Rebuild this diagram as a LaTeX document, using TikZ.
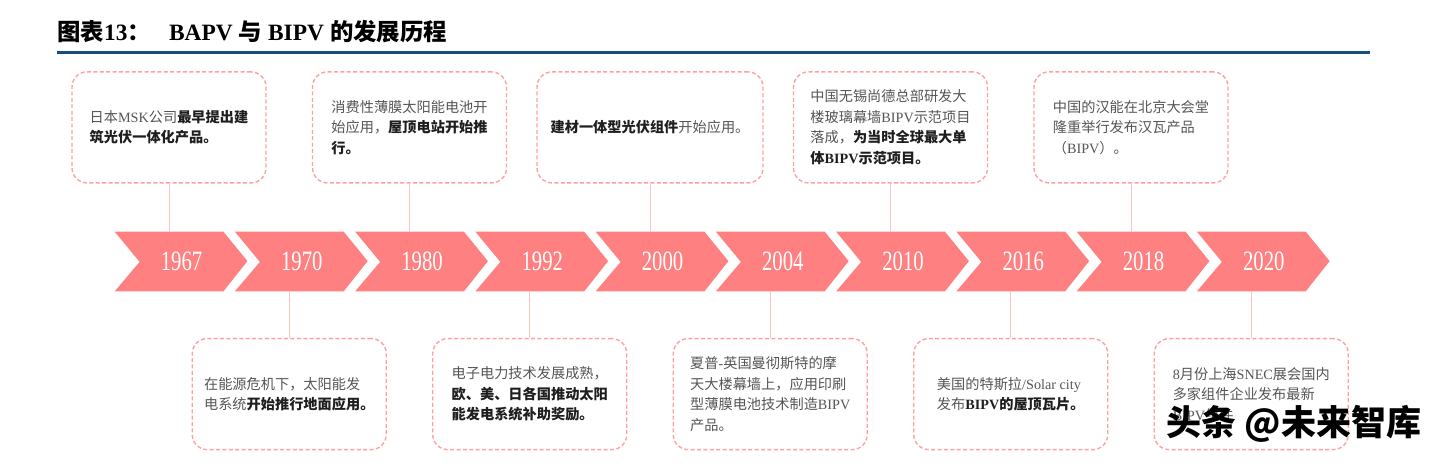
\documentclass[tikz,border=0pt]{standalone}
\usepackage{fontspec}
\setmainfont{Liberation Serif}
\newfontfamily\cjk{Noto Sans CJK SC}
\newfontfamily\yearfont{Liberation Serif}[FakeStretch=0.74]
\usetikzlibrary{positioning,calc}

\definecolor{chevred}{RGB}{255,128,128}
\definecolor{boxpink}{RGB}{255,160,160}
\definecolor{linkpink}{RGB}{255,195,195}
\definecolor{rulecol}{RGB}{22,78,130}
\definecolor{txtgrey}{RGB}{85,85,85}
\definecolor{txtdark}{RGB}{30,30,30}

\newcommand{\en}[1]{{\rmfamily #1}}
\newcommand{\hl}[1]{{\bfseries\color{txtdark}#1}}

\tikzset{
  chevbody/.style={minimum width=54pt,minimum height=29.5pt,inner sep=0pt},
  yearlbl/.style={text=white,inner sep=0pt,font=\yearfont\fontsize{14}{15}\selectfont},
  eventbox/.style={draw=boxpink,dash pattern=on 2pt off 1.2pt,line width=0.7pt,
    rounded corners=7.5pt,minimum width=97pt,minimum height=55.5pt,inner sep=0pt,
    align=left,text=txtgrey,font=\cjk\fontsize{7.1}{10.25}\selectfont},
  link/.style={draw=linkpink,line width=0.5pt},
}

\begin{document}
\begin{tikzpicture}[x=0.5pt,y=-0.5pt]
  \useasboundingbox (0,0) rectangle (1440,467);

  % 标题与蓝色横线
  \node[anchor=base west,inner sep=0pt,font=\fontsize{11.7}{14}\selectfont\bfseries] (title) at (57,40)
    {{\cjk 图表}13{\cjk ：}\hspace{9pt}BAPV\hspace{3pt}{\cjk 与}\hspace{3pt}BIPV\hspace{3pt}{\cjk 的发展历程}};
  \draw[rulecol,line width=1.75pt] (57,52.7) -- (1370,52.7);

  % 时间轴箭头
  \foreach \yr [count=\i from 0] in {1967,1970,1980,1992,2000,2004,2010,2016,2018,2020} {
    \node[chevbody] (ch\i) at (169+120.25*\i,261.5) {};
    \fill[chevred] (ch\i.north west) -- (ch\i.north east) -- ++(24,29.5)
      -- (ch\i.south east) -- (ch\i.south west) -- ++(25,-29.5) -- cycle;
    \node[yearlbl] (yr\i) at ($(ch\i.center)+(12.5,0)$) {\yr};
  }

  % 上方事件
  \node[eventbox,above=24pt of ch0] (b0) {日本\en{MSK}公司\hl{最早提出建}\\\hl{筑光伏一体化产品。}};
  \node[eventbox,above=24pt of ch2] (b2) {消费性薄膜太阳能电池开\\始应用，\hl{屋顶电站开始推}\\\hl{行。}};
  \node[eventbox,above=24pt of ch4,minimum width=113pt] (b4) {\hl{建材一体型光伏组件}开始应用。};
  \node[eventbox,above=24pt of ch6] (b6) {中国无锡尚德总部研发大\\楼玻璃幕墙\en{BIPV}示范项目\\落成，\hl{为当时全球最大单}\\\hl{体\en{BIPV}示范项目。}};
  \node[eventbox,above=24pt of ch8] (b8) {中国的汉能在北京大会堂\\隆重举行发布汉瓦产品\\（\en{BIPV}）。};

  % 下方事件
  \node[eventbox,below=23.25pt of ch1] (b1) {在能源危机下，太阳能发\\电系统\hl{开始推行地面应用。}};
  \node[eventbox,below=23.25pt of ch3] (b3) {电子电力技术发展成熟，\\\hl{欧、美、日各国推动太阳}\\\hl{能发电系统补助奖励。}};
  \node[eventbox,below=23.25pt of ch5] (b5) {夏普\en{-}英国曼彻斯特的摩\\天大楼幕墙上，应用印刷\\型薄膜电池技术制造\en{BIPV}\\产品。};
  \node[eventbox,below=23.25pt of ch7] (b7) {美国的特斯拉\en{/Solar city}\\发布\hl{\en{BIPV}的屋顶瓦片。}};
  \node[eventbox,below=23.25pt of ch9] (b9) {\en{8}月份上海\en{SNEC}展会国内\\多家组件企业发布最新\\\en{BIPV}组件};

  % 连接线
  \foreach \i in {0,2,...,8} { \draw[link] (b\i.south) -- (ch\i.north); }
  \foreach \i in {1,3,...,9} { \draw[link] (b\i.north) -- (ch\i.south); }

  % 水印
  \node[inner sep=0pt,font=\cjk\bfseries\fontsize{17.5}{18}\selectfont] (wm) at (1294,424) {头条 @未来智库};
\end{tikzpicture}
\end{document}
